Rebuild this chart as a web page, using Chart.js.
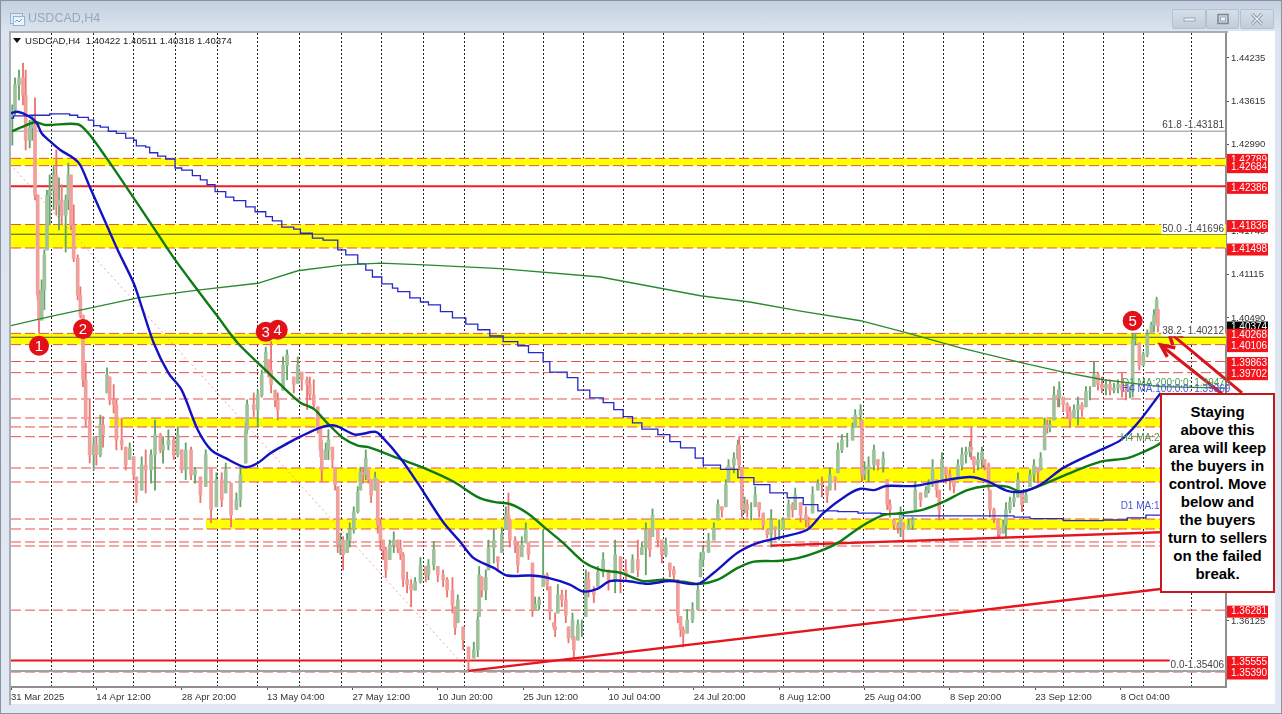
<!DOCTYPE html>
<html>
<head>
<meta charset="utf-8">
<title>USDCAD,H4</title>
<script src="https://cdn.jsdelivr.net/npm/chart.js@4"></script>
<style>
  html, body { margin: 0; padding: 0; }
  body { width: 1282px; height: 714px; overflow: hidden; position: relative; font-family: "Liberation Sans", Arial, sans-serif;
    background: linear-gradient(#c3d0df 0, #dbe4ef 31px, #dfe8f3 100%); }
  #edge { position: absolute; left: 0; top: 0; width: 1280px; height: 712px; border: 1px solid #8a949e; }
  #panel { position: absolute; left: 9px; top: 31px; width: 1266px; height: 673px; background: #fff; }
  #frameL { position: absolute; left: 9px; top: 31px; width: 2px; height: 674px; background: #a9adb1; }
  #frameT { position: absolute; left: 9px; top: 31px; width: 1219px; height: 2px; background: #a9adb1; }
  canvas { position: absolute; left: 0; top: 0; }
  #wintitle { position: absolute; left: 28px; top: 11px; font-size: 12.5px; color: #9ba7b5; }
  #icon { position: absolute; left: 10px; top: 11px; }
  .btn { position: absolute; top: 9px; height: 18px; border: 1px solid #b4c0cd; border-radius: 2px; background: linear-gradient(#d5dfe9, #c0ccd9); }
  .btn svg { position: absolute; left: 0; top: 0; }
  #tri { position: absolute; left: 13px; top: 38px; width: 0; height: 0; border-left: 4px solid transparent; border-right: 4px solid transparent; border-top: 5px solid #111; }
  #head { position: absolute; left: 25px; top: 35px; font-size: 9.6px; color: #222; white-space: pre; }
  #callout { position: absolute; left: 1160px; top: 393px; width: 111px; height: 196px; border: 2.5px solid #c8161d; background: #fff;
    text-align: center; font-weight: bold; font-size: 15px; line-height: 18px; color: #000; padding-top: 0; }
  #callout div { margin-top: 8px; margin-left: -4px; margin-right: -4px; }
</style>
</head>
<body>
<div id="edge"></div>
<div id="panel"></div>
<canvas id="usdcad" width="1282" height="714"></canvas>
<div id="frameL"></div>
<div id="frameT"></div>
<svg id="icon" width="15" height="15"><rect x="0.5" y="2.5" width="12" height="10" fill="#dfeaf5" stroke="#8fb4d6"/><rect x="3.5" y="5.5" width="11" height="9" fill="#eef5fb" stroke="#8fb4d6"/><path d="M5 11l2-2 2 2 3-3" fill="none" stroke="#6fa0c8"/></svg>
<div id="wintitle">USDCAD,H4</div>
<div class="btn" style="left:1172px;width:32px"><svg width="32" height="18"><rect x="11" y="8" width="11" height="3" fill="#eef2f6" stroke="#9aa6b3"/></svg></div>
<div class="btn" style="left:1206px;width:31px"><svg width="31" height="18"><rect x="11" y="4.5" width="10" height="9" fill="none" stroke="#7c8794" stroke-width="1.5"/><rect x="13.5" y="7" width="5" height="4" fill="#eef2f6" stroke="#9aa6b3"/></svg></div>
<div class="btn" style="left:1240px;width:32px"><svg width="32" height="18"><path d="M11 4l10 10M21 4L11 14" stroke="#7c8794" stroke-width="3"/><path d="M11 4l10 10M21 4L11 14" stroke="#eef2f6" stroke-width="1.4"/></svg></div>
<div id="tri"></div>
<div id="head">USDCAD,H4  1.40422 1.40511 1.40318 1.40374</div>
<div id="callout"><div>Staying<br>above this<br>area will keep<br>the buyers in<br>control. Move<br>below and<br>the buyers<br>turn to sellers<br>on the failed<br>break.</div></div>

<script>
// x is the H4 bar number counted from 31 Mar 2025, y is the price
const dateLabels = ['31 Mar 2025', '14 Apr 12:00', '28 Apr 20:00', '13 May 04:00', '27 May 12:00', '10 Jun 20:00', '25 Jun 12:00',
  '10 Jul 04:00', '24 Jul 20:00', '8 Aug 12:00', '25 Aug 04:00', '8 Sep 20:00', '23 Sep 12:00', '8 Oct 04:00']
const dateBars = [0, 64, 128, 192, 256, 320, 384, 448, 512, 576, 640, 704, 768, 832]
const gridBars = [30.5, 61.5, 92, 123.5, 154.5, 185, 216.5, 247.5, 278, 309.5, 340, 369, 399, 429.5, 459.5, 489, 519, 549.5, 579.5,
  609, 639, 669, 699, 729, 759, 789, 819, 849, 885.5]
const priceTicks = [1.44235, 1.43615, 1.42990, 1.42365, 1.41740, 1.41115, 1.40490, 1.39865, 1.39240, 1.38615, 1.37990, 1.37365,
  1.36750, 1.36125, 1.35500]

const candleBars = [
  1, 3, 6, 9, 11, 14, 16, 18, 20, 21,
  23, 25, 27, 29, 32, 34, 36, 38, 41, 43,
  45, 47, 50, 52, 54, 56, 59, 62, 64, 67,
  69, 72, 74, 77, 79, 83, 86, 89, 92, 94,
  98, 101, 105, 108, 112, 114, 118, 122, 125, 128,
  131, 135, 138, 142, 146, 150, 154, 158, 161, 165,
  169, 172, 176, 177, 182, 185, 188, 191, 193, 195,
  198, 200, 204, 207, 212, 215, 218, 222, 224, 227,
  230, 232, 233, 236, 238, 241, 243, 245, 247, 249,
  252, 254, 257, 260, 262, 264, 266, 268, 270, 273,
  275, 277, 279, 281, 284, 287, 290, 292, 294, 297,
  300, 303, 307, 311, 313, 317, 320, 324, 327, 331,
  333, 335, 339, 343, 347, 350, 351, 353, 356, 358,
  362, 365, 368, 371, 373, 374, 378, 380, 383, 386,
  388, 391, 393, 396, 399, 402, 404, 407, 408, 410,
  413, 416, 418, 421, 422, 425, 428, 431, 433, 437,
  440, 444, 448, 453, 457, 461, 466, 470, 473, 476,
  479, 481, 485, 488, 491, 494, 497, 500, 502, 504,
  507, 511, 515, 517, 519, 523, 527, 530, 533, 536,
  538, 542, 545, 546, 548, 550, 552, 555, 558, 561,
  564, 567, 570, 573, 576, 579, 583, 586, 588, 592,
  596, 598, 601, 605, 608, 612, 614, 618, 620, 623,
  627, 631, 633, 637, 638, 640, 643, 647, 650, 654,
  657, 659, 662, 665, 667, 669, 673, 676, 678, 682,
  686, 688, 691, 694, 696, 698, 701, 704, 707, 710,
  713, 716, 719, 720, 722, 725, 728, 730, 733, 734,
  737, 740, 741, 744, 746, 749, 752, 755, 758, 761,
  764, 767, 770, 772, 775, 777, 779, 782, 785, 786,
  789, 792, 794, 797, 800, 803, 806, 809, 812, 815,
  818, 821, 824, 827, 830, 833, 836, 839, 841, 843,
  846, 849, 852, 855, 857, 859, 860]
const candleHighs = [
  1.4356, 1.4395, 1.4406, 1.4416, 1.4406, 1.4334, 1.4341, 1.4366, 1.4226, 1.4089,
  1.4104, 1.4147, 1.4233, 1.4255, 1.4267, 1.4291, 1.4251, 1.4241, 1.4226, 1.4272,
  1.4255, 1.4212, 1.4140, 1.4094, 1.4053, 1.3984, 1.3931, 1.3878, 1.3878, 1.3909,
  1.3907, 1.3977, 1.3964, 1.3953, 1.3931, 1.3905, 1.3863, 1.3869, 1.3849, 1.3820,
  1.3849, 1.3859, 1.3859, 1.3902, 1.3883, 1.3878, 1.3888, 1.3878, 1.3892, 1.3859,
  1.3869, 1.3863, 1.3834, 1.3820, 1.3859, 1.3834, 1.3826, 1.3826, 1.3840, 1.3811,
  1.3797, 1.3834, 1.3898, 1.3931, 1.3941, 1.3945, 1.3974, 1.4007, 1.3989, 1.4015,
  1.3945, 1.3941, 1.3993, 1.4003, 1.3964, 1.3993, 1.3971, 1.3964, 1.3964, 1.3960,
  1.3921, 1.3891, 1.3873, 1.3869, 1.3888, 1.3863, 1.3833, 1.3806, 1.3739, 1.3734,
  1.3739, 1.3754, 1.3777, 1.3806, 1.3834, 1.3834, 1.3859, 1.3830, 1.3816, 1.3827,
  1.3816, 1.3758, 1.3729, 1.3719, 1.3729, 1.3741, 1.3729, 1.3729, 1.3711, 1.3683,
  1.3672, 1.3675, 1.3704, 1.3691, 1.3701, 1.3727, 1.3691, 1.3686, 1.3675, 1.3675,
  1.3633, 1.3650, 1.3604, 1.3575, 1.3582, 1.3624, 1.3691, 1.3676, 1.3686, 1.3729,
  1.3744, 1.3705, 1.3747, 1.3777, 1.3797, 1.3758, 1.3734, 1.3725, 1.3734, 1.3754,
  1.3725, 1.3696, 1.3647, 1.3647, 1.3744, 1.3682, 1.3662, 1.3610, 1.3624, 1.3665,
  1.3657, 1.3657, 1.3604, 1.3624, 1.3590, 1.3614, 1.3614, 1.3686, 1.3683, 1.3662,
  1.3691, 1.3711, 1.3686, 1.3729, 1.3705, 1.3701, 1.3708, 1.3729, 1.3725, 1.3754,
  1.3744, 1.3774, 1.3744, 1.3729, 1.3732, 1.3696, 1.3691, 1.3672, 1.3619, 1.3604,
  1.3629, 1.3639, 1.3667, 1.3711, 1.3719, 1.3739, 1.3754, 1.3787, 1.3777, 1.3816,
  1.3845, 1.3855, 1.3873, 1.3878, 1.3834, 1.3791, 1.3787, 1.3783, 1.3806, 1.3783,
  1.3768, 1.3744, 1.3773, 1.3748, 1.3758, 1.3762, 1.3787, 1.3783, 1.3804, 1.3783,
  1.3777, 1.3762, 1.3806, 1.3816, 1.3820, 1.3806, 1.3833, 1.3820, 1.3869, 1.3881,
  1.3883, 1.3898, 1.3917, 1.3924, 1.3902, 1.3842, 1.3849, 1.3866, 1.3845, 1.3856,
  1.3816, 1.3787, 1.3758, 1.3754, 1.3777, 1.3754, 1.3758, 1.3762, 1.3813, 1.3797,
  1.3806, 1.3816, 1.3845, 1.3816, 1.3801, 1.3855, 1.3834, 1.3830, 1.3816, 1.3845,
  1.3862, 1.3863, 1.3871, 1.3891, 1.3849, 1.3855, 1.3863, 1.3845, 1.3840, 1.3801,
  1.3775, 1.3758, 1.3748, 1.3758, 1.3783, 1.3791, 1.3797, 1.3826, 1.3797, 1.3801,
  1.3830, 1.3845, 1.3834, 1.3855, 1.3905, 1.3902, 1.3902, 1.3950, 1.3945, 1.3957,
  1.3935, 1.3927, 1.3921, 1.3924, 1.3935, 1.3927, 1.3950, 1.3950, 1.3986, 1.3970,
  1.3964, 1.3960, 1.3960, 1.3955, 1.3960, 1.3970, 1.3955, 1.3950, 1.4027, 1.4025,
  1.4013, 1.4000, 1.4032, 1.4043, 1.4061, 1.4079, 1.4061]
const candleLows = [
  1.4298, 1.4341, 1.4363, 1.4356, 1.4291, 1.4294, 1.4305, 1.4219, 1.4075, 1.4027,
  1.4046, 1.4061, 1.4147, 1.4183, 1.4205, 1.4197, 1.4176, 1.4183, 1.4144, 1.4205,
  1.4176, 1.4130, 1.4075, 1.4049, 1.3950, 1.3892, 1.3840, 1.3830, 1.3837, 1.3849,
  1.3863, 1.3941, 1.3924, 1.3912, 1.3859, 1.3859, 1.3830, 1.3845, 1.3816, 1.3783,
  1.3801, 1.3797, 1.3811, 1.3801, 1.3855, 1.3840, 1.3859, 1.3845, 1.3849, 1.3826,
  1.3816, 1.3816, 1.3811, 1.3783, 1.3806, 1.3754, 1.3777, 1.3777, 1.3797, 1.3748,
  1.3773, 1.3777, 1.3840, 1.3883, 1.3907, 1.3892, 1.3935, 1.3970, 1.3964, 1.3941,
  1.3921, 1.3902, 1.3945, 1.3960, 1.3941, 1.3955, 1.3945, 1.3917, 1.3931, 1.3917,
  1.3883, 1.3849, 1.3813, 1.3845, 1.3845, 1.3833, 1.3801, 1.3711, 1.3708, 1.3686,
  1.3711, 1.3719, 1.3739, 1.3768, 1.3801, 1.3811, 1.3816, 1.3811, 1.3783, 1.3801,
  1.3739, 1.3715, 1.3701, 1.3675, 1.3701, 1.3711, 1.3711, 1.3701, 1.3662, 1.3653,
  1.3633, 1.3657, 1.3667, 1.3669, 1.3672, 1.3686, 1.3669, 1.3662, 1.3647, 1.3624,
  1.3593, 1.3610, 1.3571, 1.3542, 1.3559, 1.3561, 1.3619, 1.3647, 1.3643, 1.3686,
  1.3696, 1.3686, 1.3711, 1.3744, 1.3744, 1.3719, 1.3711, 1.3682, 1.3705, 1.3725,
  1.3701, 1.3619, 1.3629, 1.3629, 1.3662, 1.3657, 1.3614, 1.3600, 1.3590, 1.3624,
  1.3633, 1.3610, 1.3581, 1.3585, 1.3557, 1.3585, 1.3590, 1.3619, 1.3647, 1.3639,
  1.3662, 1.3676, 1.3657, 1.3653, 1.3653, 1.3672, 1.3682, 1.3676, 1.3708, 1.3679,
  1.3705, 1.3734, 1.3719, 1.3696, 1.3705, 1.3676, 1.3672, 1.3610, 1.3590, 1.3575,
  1.3595, 1.3610, 1.3629, 1.3676, 1.3691, 1.3711, 1.3729, 1.3758, 1.3762, 1.3777,
  1.3813, 1.3826, 1.3845, 1.3830, 1.3762, 1.3768, 1.3762, 1.3758, 1.3777, 1.3762,
  1.3744, 1.3732, 1.3719, 1.3729, 1.3729, 1.3744, 1.3762, 1.3762, 1.3773, 1.3755,
  1.3748, 1.3747, 1.3768, 1.3801, 1.3791, 1.3783, 1.3801, 1.3801, 1.3826, 1.3855,
  1.3863, 1.3873, 1.3892, 1.3892, 1.3813, 1.3816, 1.3813, 1.3830, 1.3830, 1.3827,
  1.3773, 1.3762, 1.3744, 1.3739, 1.3734, 1.3729, 1.3744, 1.3744, 1.3773, 1.3777,
  1.3791, 1.3797, 1.3806, 1.3791, 1.3758, 1.3816, 1.3811, 1.3801, 1.3797, 1.3820,
  1.3830, 1.3840, 1.3849, 1.3845, 1.3826, 1.3830, 1.3834, 1.3830, 1.3801, 1.3762,
  1.3754, 1.3734, 1.3732, 1.3739, 1.3734, 1.3768, 1.3777, 1.3791, 1.3770, 1.3783,
  1.3806, 1.3813, 1.3811, 1.3830, 1.3859, 1.3883, 1.3885, 1.3902, 1.3921, 1.3921,
  1.3914, 1.3905, 1.3891, 1.3905, 1.3895, 1.3907, 1.3921, 1.3931, 1.3950, 1.3945,
  1.3941, 1.3938, 1.3938, 1.3941, 1.3941, 1.3935, 1.3931, 1.3934, 1.3935, 1.4010,
  1.3974, 1.3981, 1.3993, 1.4027, 1.4029, 1.4042, 1.4029]
const candleCloses = [
  1.4349, 1.4385, 1.4395, 1.4370, 1.4305, 1.4323, 1.4327, 1.4226, 1.4082, 1.4046,
  1.4089, 1.4140, 1.4226, 1.4233, 1.4255, 1.4212, 1.4219, 1.4197, 1.4219, 1.4255,
  1.4183, 1.4135, 1.4082, 1.4053, 1.3960, 1.3902, 1.3852, 1.3866, 1.3852, 1.3895,
  1.3881, 1.3967, 1.3931, 1.3924, 1.3873, 1.3866, 1.3837, 1.3862, 1.3823, 1.3794,
  1.3837, 1.3830, 1.3852, 1.3881, 1.3859, 1.3866, 1.3873, 1.3852, 1.3881, 1.3830,
  1.3859, 1.3823, 1.3830, 1.3794, 1.3852, 1.3773, 1.3816, 1.3787, 1.3830, 1.3765,
  1.3787, 1.3823, 1.3888, 1.3924, 1.3917, 1.3938, 1.3967, 1.4000, 1.3974, 1.3953,
  1.3931, 1.3917, 1.3981, 1.3996, 1.3953, 1.3981, 1.3960, 1.3953, 1.3938, 1.3924,
  1.3891, 1.3859, 1.3830, 1.3859, 1.3873, 1.3845, 1.3809, 1.3722, 1.3729, 1.3708,
  1.3729, 1.3744, 1.3770, 1.3798, 1.3827, 1.3823, 1.3847, 1.3816, 1.3794, 1.3819,
  1.3751, 1.3729, 1.3715, 1.3686, 1.3722, 1.3729, 1.3718, 1.3708, 1.3672, 1.3665,
  1.3657, 1.3669, 1.3693, 1.3679, 1.3693, 1.3715, 1.3679, 1.3672, 1.3657, 1.3636,
  1.3603, 1.3643, 1.3585, 1.3557, 1.3571, 1.3614, 1.3679, 1.3657, 1.3675, 1.3718,
  1.3729, 1.3698, 1.3737, 1.3765, 1.3758, 1.3729, 1.3722, 1.3693, 1.3722, 1.3744,
  1.3708, 1.3629, 1.3636, 1.3643, 1.3679, 1.3665, 1.3626, 1.3604, 1.3600, 1.3650,
  1.3643, 1.3621, 1.3588, 1.3614, 1.3571, 1.3607, 1.3607, 1.3672, 1.3657, 1.3650,
  1.3683, 1.3701, 1.3672, 1.3708, 1.3686, 1.3679, 1.3701, 1.3686, 1.3718, 1.3744,
  1.3715, 1.3765, 1.3729, 1.3708, 1.3722, 1.3686, 1.3679, 1.3621, 1.3600, 1.3593,
  1.3614, 1.3629, 1.3657, 1.3701, 1.3712, 1.3729, 1.3747, 1.3780, 1.3773, 1.3809,
  1.3837, 1.3847, 1.3866, 1.3837, 1.3773, 1.3780, 1.3773, 1.3773, 1.3794, 1.3773,
  1.3751, 1.3737, 1.3758, 1.3744, 1.3744, 1.3758, 1.3780, 1.3773, 1.3794, 1.3765,
  1.3758, 1.3755, 1.3794, 1.3811, 1.3809, 1.3794, 1.3823, 1.3813, 1.3859, 1.3873,
  1.3873, 1.3891, 1.3909, 1.3917, 1.3823, 1.3830, 1.3837, 1.3859, 1.3837, 1.3847,
  1.3780, 1.3773, 1.3751, 1.3747, 1.3765, 1.3744, 1.3751, 1.3758, 1.3801, 1.3787,
  1.3801, 1.3809, 1.3833, 1.3801, 1.3773, 1.3845, 1.3823, 1.3816, 1.3806, 1.3837,
  1.3852, 1.3856, 1.3863, 1.3859, 1.3837, 1.3845, 1.3856, 1.3837, 1.3809, 1.3773,
  1.3761, 1.3744, 1.3737, 1.3751, 1.3773, 1.3784, 1.3790, 1.3816, 1.3780, 1.3794,
  1.3823, 1.3837, 1.3827, 1.3847, 1.3895, 1.3891, 1.3895, 1.3938, 1.3934, 1.3945,
  1.3924, 1.3914, 1.3902, 1.3917, 1.3924, 1.3917, 1.3943, 1.3943, 1.3967, 1.3953,
  1.3948, 1.3953, 1.3945, 1.3948, 1.3953, 1.3945, 1.3943, 1.3945, 1.4017, 1.4017,
  1.3981, 1.3996, 1.4025, 1.4039, 1.4053, 1.4075, 1.4037]

const h4Ma100Bars = [0, 5, 13, 19, 23, 29, 37, 47, 52, 59, 71, 80, 92, 98, 107, 118, 128, 140, 150, 161, 176, 185, 195, 208, 217, 232, 243,
  258, 273, 278, 292, 305, 324, 337, 347, 362, 372, 389, 402, 419, 429, 440, 449, 462, 477, 494, 515, 527, 545, 560, 579, 597, 609, 627,
  637, 647, 656, 677, 697, 719, 732, 747, 759, 772, 789, 817, 832, 845, 862]
const h4Ma100 = [1.4344, 1.4346, 1.4340, 1.4331, 1.4315, 1.4304, 1.4291, 1.4279, 1.4269, 1.4238, 1.4186, 1.4147, 1.4099, 1.4065, 1.4013,
  1.3970, 1.3945, 1.3888, 1.3859, 1.3847, 1.3834, 1.3840, 1.3855, 1.3869, 1.3878, 1.3891, 1.3894, 1.3881, 1.3885, 1.3878, 1.3847, 1.3811,
  1.3755, 1.3726, 1.3703, 1.3689, 1.3678, 1.3678, 1.3675, 1.3665, 1.3655, 1.3659, 1.3670, 1.3670, 1.3666, 1.3670, 1.3666, 1.3682, 1.3711,
  1.3725, 1.3734, 1.3744, 1.3768, 1.3794, 1.3803, 1.3801, 1.3807, 1.3807, 1.3814, 1.3820, 1.3814, 1.3800, 1.3799, 1.3809, 1.3833, 1.3859,
  1.3873, 1.3898, 1.3941]

const h4Ma200Bars = [1, 8, 18, 26, 50, 58, 71, 86, 108, 123, 140, 155, 170, 193, 202, 217, 227, 237, 249, 260, 268, 290, 312, 332, 350, 362,
  374, 387, 402, 414, 429, 442, 457, 474, 489, 504, 517, 530, 545, 557, 575, 590, 605, 620, 637, 654, 669, 684, 699, 717, 732, 747, 757,
  770, 792, 817, 837, 849, 862, 873]
const h4Ma200 = [1.4318, 1.4324, 1.4331, 1.4327, 1.4328, 1.4315, 1.4281, 1.4239, 1.4176, 1.4133, 1.4089, 1.4051, 1.4013, 1.3970, 1.3953,
  1.3927, 1.3918, 1.3898, 1.3876, 1.3865, 1.3863, 1.3847, 1.3831, 1.3813, 1.3791, 1.3784, 1.3781, 1.3768, 1.3744, 1.3725, 1.3698, 1.3686,
  1.3682, 1.3670, 1.3672, 1.3669, 1.3666, 1.3672, 1.3689, 1.3698, 1.3699, 1.3703, 1.3712, 1.3725, 1.3748, 1.3765, 1.3768, 1.3773, 1.3784,
  1.3801, 1.3807, 1.3806, 1.3799, 1.3806, 1.3824, 1.3842, 1.3847, 1.3856, 1.3869, 1.3891]

const d1Ma200Bars = [0, 29, 95, 140, 185, 215, 248, 277, 314, 367, 442, 517, 554, 592, 637, 669, 712, 759, 789, 819, 862, 911]
const d1Ma200 = [1.4038, 1.4051, 1.4078, 1.4089, 1.4099, 1.4117, 1.4125, 1.4128, 1.4125, 1.4120, 1.4108, 1.4081, 1.4072, 1.4059, 1.4045,
  1.4029, 1.4006, 1.3984, 1.3971, 1.3960, 1.3950, 1.3948]

const d1Ma100Bars = [0, 2, 14, 29, 44, 50, 58, 62, 67, 73, 79, 86, 92, 94, 101, 104, 110, 116, 123, 128, 136, 142, 147, 153, 161, 167, 176,
  183, 191, 196, 203, 212, 217, 226, 234, 245, 251, 260, 266, 271, 278, 286, 290, 299, 307, 313, 322, 331, 341, 350, 359, 369, 380, 388,
  399, 404, 417, 425, 434, 444, 452, 459, 466, 473, 485, 494, 502, 513, 519, 532, 545, 557, 569, 582, 594, 605, 620, 635, 652, 669, 697,
  734, 752, 764, 789, 819, 837, 851, 862, 873]
const d1Ma100 = [1.4337, 1.4340, 1.4341, 1.4343, 1.4341, 1.4338, 1.4334, 1.4326, 1.4324, 1.4318, 1.4315, 1.4308, 1.4305, 1.4297, 1.4295,
  1.4287, 1.4282, 1.4278, 1.4265, 1.4262, 1.4254, 1.4248, 1.4241, 1.4231, 1.4223, 1.4218, 1.4209, 1.4202, 1.4195, 1.4189, 1.4180, 1.4177,
  1.4171, 1.4164, 1.4161, 1.4147, 1.4140, 1.4127, 1.4118, 1.4108, 1.4098, 1.4092, 1.4087, 1.4078, 1.4072, 1.4068, 1.4058, 1.4049, 1.4040,
  1.4032, 1.4023, 1.4015, 1.4009, 1.3999, 1.3986, 1.3971, 1.3963, 1.3945, 1.3934, 1.3927, 1.3917, 1.3907, 1.3898, 1.3889, 1.3881, 1.3871,
  1.3862, 1.3847, 1.3837, 1.3831, 1.3819, 1.3809, 1.3797, 1.3790, 1.3780, 1.3771, 1.3770, 1.3768, 1.3767, 1.3764, 1.3764, 1.3764, 1.3762,
  1.3760, 1.3757, 1.3758, 1.3761, 1.3765, 1.3771, 1.3775]

const dashedLevels = [1.42789, 1.42684, 1.41836, 1.41498, 1.40268, 1.40106, 1.39863, 1.39702, 1.39323, 1.39049, 1.38920, 1.38780, 1.38329,
  1.38127, 1.37594, 1.37450, 1.37263, 1.37205, 1.36281, 1.35390]
const bandTops = [1.42789, 1.41836, 1.40268, 1.39049, 1.38329, 1.37594]
const bandBottoms = [1.42684, 1.41498, 1.40106, 1.38920, 1.38127, 1.37450]
const bandStarts = [0, 0, 0, 74, 172, 146]
const tagPrices = [1.42789, 1.42684, 1.42386, 1.41836, 1.41498, 1.40268, 1.40106, 1.39863, 1.39702, 1.36281, 1.35555, 1.35390]
const lastPrice = 1.40374
const fibLevels = [1.43181, 1.41696, 1.40212, 1.35406]
const fibLabels = ['61.8 -1.43181', '50.0 -1.41696', '38.2- 1.40212', '0.0-1.35406']
const fibLabelPrices = [1.4327, 1.4177, 1.4030, 1.3549]
const fibSlopeBars = [2, 343]
const fibSlope = [1.4265, 1.3541]
const supportLevel = 1.42386
const floorLevel = 1.35555
const floorEndBar = 871
const trendABars = [343, 873]
const trendA = [1.35406, 1.3661]
const trendBBars = [570, 873]
const trendB = [1.3721, 1.3741]
const arrowOneBars = [868, 923]
const arrowOne = [1.4029, 1.3941]
const arrowOneHeadBars = [879, 868, 871]
const arrowOneHead = [1.4022, 1.4029, 1.4010]
const arrowTwoBars = [862, 909]
const arrowTwo = [1.4010, 1.3938]
const arrowTwoHeadBars = [873, 862, 867]
const arrowTwoHead = [1.4006, 1.4010, 1.3993]
const markerBars = [21, 54, 191, 200, 841]
const markerPrices = [1.4009, 1.4033, 1.4029, 1.4032, 1.4045]
const markerNames = ['1', '2', '3', '4', '5']
const maNotes = ['D1 MA:200:0:0: 1.39478', 'H4 MA:100:0:0: 1.39369', 'H4 MA:20', 'D1 MA:10']
const maNoteBars = [833, 833, 832, 832]
const maNotePrices = [1.3955, 1.3947, 1.3876, 1.3778]

const pts = (xs, ys) => xs.map((x, i) => ({ x, y: ys[i] }))
const line = (data, color, width, extra) => ({
  type: 'line', data, borderColor: color, borderWidth: width, pointRadius: 0, tension: 0, fill: false, ...extra
})

// each candle opens on the previous close, kept inside its own range
const opens = candleCloses.map((c, i) => {
  const prev = i ? candleCloses[i - 1] : c
  return Math.min(candleHighs[i], Math.max(candleLows[i], prev))
})
const isUp = i => candleCloses[i] >= opens[i]

const datasets = []
bandTops.forEach((top, i) => {
  datasets.push(line(pts([bandStarts[i], 911], [top, top]), 'rgba(0,0,0,0)', 0, {
    fill: { value: bandBottoms[i] }, backgroundColor: '#ffff00', order: 30
  }))
})
dashedLevels.forEach(p => {
  datasets.push(line(pts([0, 911], [p, p]), '#e4524f', 1, { borderDash: [10, 4], order: 25 }))
})
fibLevels.forEach((p, i) => {
  const color = i === 3 ? '#a0a0a0' : i === 0 ? '#8c8c8c' : '#4d4d33'
  datasets.push(line(pts([0, 911], [p, p]), color, i === 3 ? 2 : 1, { order: 24 }))
})
datasets.push(line(pts(fibSlopeBars, fibSlope), '#f2a0a0', 1, { borderDash: [2, 3], order: 23 }))
datasets.push(line(pts([0, 911], [supportLevel, supportLevel]), '#ee2024', 2, { order: 22 }))
datasets.push(line(pts([0, floorEndBar], [floorLevel, floorLevel]), '#e8141c', 2, { order: 22 }))
datasets.push({
  type: 'bar', data: pts(candleBars, candleHighs.map((h, i) => [candleLows[i], h])), grouped: false, barThickness: 1.2,
  backgroundColor: candleBars.map((b, i) => isUp(i) ? '#62a56a' : '#ee7474'), order: 21
})
datasets.push({
  type: 'bar', data: pts(candleBars, opens.map((o, i) => [o, candleCloses[i]])), grouped: false, barThickness: 3,
  backgroundColor: candleBars.map((b, i) => isUp(i) ? '#9fc29c' : '#f09f9a'), order: 20
})
datasets.push(line(pts(trendABars, trendA), '#e6141c', 2.4, { order: 15 }))
datasets.push(line(pts(trendBBars, trendB), '#e6141c', 2.4, { order: 15 }))
datasets.push(line(pts(d1Ma200Bars, d1Ma200), '#2a8a30', 1.3, { order: 12 }))
datasets.push(line(pts(d1Ma100Bars, d1Ma100), '#2628c8', 1.3, { stepped: true, order: 12 }))
datasets.push(line(pts(h4Ma200Bars, h4Ma200), '#0d7a14', 2.4, { tension: 0.3, order: 11 }))
datasets.push(line(pts(h4Ma100Bars, h4Ma100), '#1212c4', 2.4, { tension: 0.3, order: 10 }))
datasets.push(line(pts(arrowOneBars, arrowOne), '#d8141c', 3, { clip: false, order: 5 }))
datasets.push(line(pts(arrowOneHeadBars, arrowOneHead), '#d8141c', 3.5, { clip: false, order: 5 }))
datasets.push(line(pts(arrowTwoBars, arrowTwo), '#d8141c', 3, { clip: false, order: 5 }))
datasets.push(line(pts(arrowTwoHeadBars, arrowTwoHead), '#d8141c', 3.5, { clip: false, order: 5 }))
datasets.push({
  type: 'scatter', data: pts(markerBars, markerPrices), pointRadius: 10, pointBackgroundColor: '#e21018',
  pointBorderColor: '#e21018', pointBorderWidth: 0, showLine: false, order: 1
})

const notesPlugin = {
  id: 'notes',
  afterDraw(chart) {
    const { ctx } = chart
    const x = chart.scales.x
    const y = chart.scales.y
    ctx.save()
    ctx.textBaseline = 'middle'

    ctx.font = '10px "Liberation Sans", Arial, sans-serif'
    ctx.textAlign = 'right'
    fibLabels.forEach((t, i) => {
      const py = y.getPixelForValue(fibLabelPrices[i])
      const w = ctx.measureText(t).width
      ctx.fillStyle = '#fff'
      ctx.fillRect(1224 - w - 1, py - 6, w + 2, 11)
      ctx.fillStyle = '#444'
      ctx.fillText(t, 1224, py)
    })

    ctx.textAlign = 'left'
    maNotes.forEach((t, i) => {
      ctx.fillStyle = t.includes('MA:100') || t === 'D1 MA:10' ? '#4a56d6' : '#4c9a52'
      ctx.fillText(t, x.getPixelForValue(maNoteBars[i]), y.getPixelForValue(maNotePrices[i]))
    })

    // price tags on the right axis
    ctx.textAlign = 'left'
    const tag = (p, bg) => {
      const py = y.getPixelForValue(p) + 1.5
      ctx.fillStyle = bg
      ctx.fillRect(1227, py - 6, 41, 12)
      ctx.fillStyle = '#fff'
      ctx.fillText(p.toFixed(5), 1231, py)
    }
    tag(lastPrice, '#000')
    tagPrices.forEach(p => tag(p, '#f5141c'))

    ctx.font = '15px "Liberation Sans", Arial, sans-serif'
    ctx.textAlign = 'center'
    ctx.fillStyle = '#fff'
    markerNames.forEach((t, i) => {
      ctx.fillText(t, x.getPixelForValue(markerBars[i]), y.getPixelForValue(markerPrices[i]) + 1)
    })
    ctx.restore()
  }
}

new Chart(document.getElementById('usdcad'), {
  type: 'bar',
  data: { datasets },
  plugins: [notesPlugin],
  options: {
    responsive: false,
    animation: false,
    events: [],
    layout: { padding: { left: 11, top: 33, right: 0, bottom: 0 } },
    plugins: { legend: { display: false }, tooltip: { enabled: false }, title: { display: false } },
    scales: {
      x: {
        type: 'linear', position: 'bottom', min: 0, max: 911, offset: false,
        afterBuildTicks: s => { s.ticks = dateBars.map(value => ({ value })) },
        afterFit: s => { s.height = 27 },
        grid: { drawOnChartArea: false, offset: false, tickLength: 3, tickColor: '#555' },
        border: { color: '#8e8e8e', width: 2 },
        ticks: {
          autoSkip: false, maxRotation: 0, align: 'start', padding: 2, color: '#333',
          font: { family: '"Liberation Sans", Arial, sans-serif', size: 9.5 },
          callback: v => dateLabels[dateBars.indexOf(v)]
        }
      },
      xg: {
        type: 'linear', position: 'top', min: 0, max: 911, offset: false,
        afterBuildTicks: s => { s.ticks = gridBars.map(value => ({ value })) },
        afterFit: s => { s.height = 0 },
        grid: { color: '#222', lineWidth: 1, drawTicks: false, offset: false },
        border: { display: false, dash: [2, 2] },
        ticks: { display: false, autoSkip: false }
      },
      y: {
        type: 'linear', position: 'right', min: 1.35174, max: 1.44595,
        afterBuildTicks: s => { s.ticks = priceTicks.map(value => ({ value })) },
        afterFit: s => { s.width = 56 },
        grid: { drawOnChartArea: false, tickLength: 3, tickColor: '#555' },
        border: { color: '#8e8e8e', width: 2 },
        ticks: {
          autoSkip: false, padding: 2, color: '#333',
          font: { family: '"Liberation Sans", Arial, sans-serif', size: 9.5 },
          callback: v => v.toFixed(5)
        }
      }
    }
  }
})
</script>
</body>
</html>
